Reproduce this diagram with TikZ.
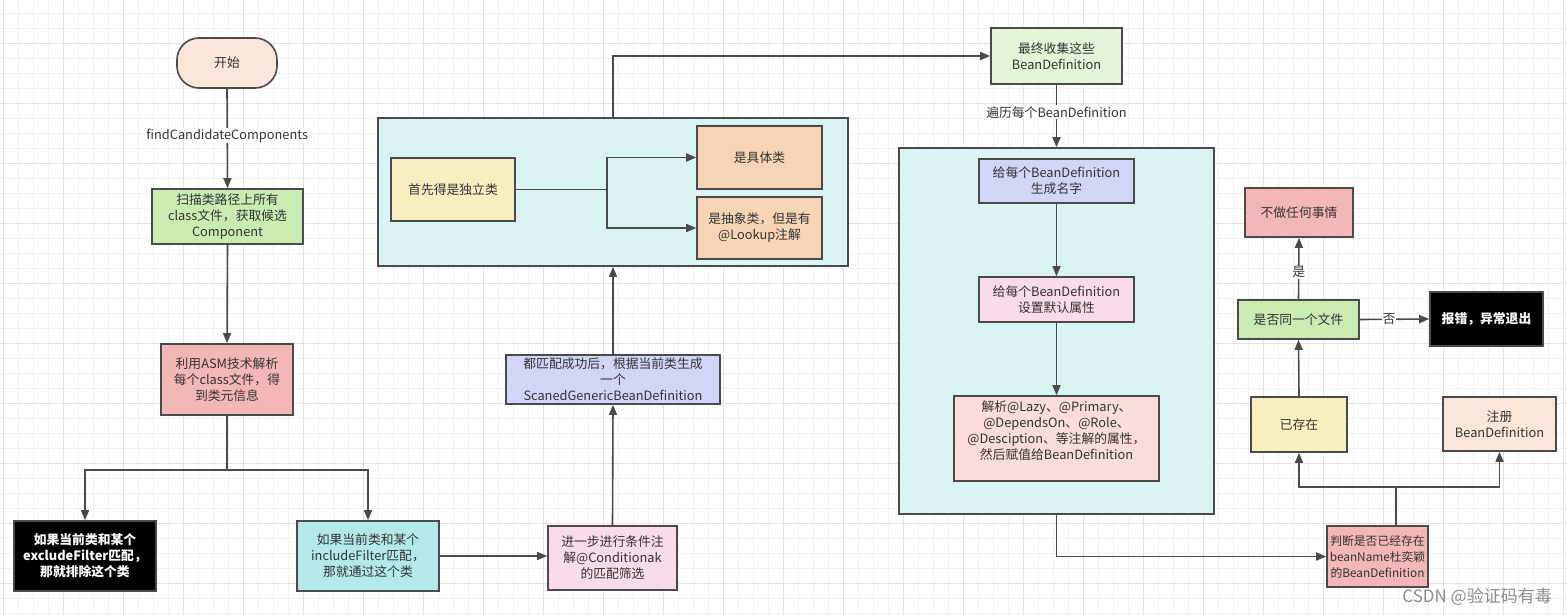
\documentclass[tikz,border=0pt]{standalone}
\usepackage{fontspec}
\setmainfont{Noto Sans CJK SC}
\usetikzlibrary{arrows.meta}
\definecolor{ln}{HTML}{4A4A4A}
\definecolor{txt}{HTML}{333333}
\definecolor{gminor}{HTML}{F0F0F0}
\definecolor{gmajor}{HTML}{E2E2E2}
\definecolor{cPeach}{HTML}{FBE7D9}
\definecolor{cGreen}{HTML}{C9ECB3}
\definecolor{cRed}{HTML}{F4B7B7}
\definecolor{cCyan}{HTML}{B4E9E9}
\definecolor{cPink}{HTML}{FADBE9}
\definecolor{cLav}{HTML}{D3D5F7}
\definecolor{cCont}{HTML}{DAF4F4}
\definecolor{cYel}{HTML}{F7EEC2}
\definecolor{cOra}{HTML}{F7D4B4}
\definecolor{cLGreen}{HTML}{E3F4D8}
\definecolor{cSalm}{HTML}{FADCDB}
\begin{document}
\begin{tikzpicture}[x=1pt,y=-1pt,
  font=\fontsize{12.8}{16}\selectfont,
  box/.style={draw=ln, line width=1.6pt, align=center, text=txt, inner sep=1pt},
  dark/.style={box, fill=black, text=white, font=\fontsize{12.8}{16}\selectfont\bfseries},
  conn/.style={draw=ln, line width=1.6pt, -{Triangle[length=10pt,width=8pt]}},
  elab/.style={fill=white, text=txt, inner sep=1pt}]
\useasboundingbox (0,0) rectangle (1567,615);
\fill[white] (0,0) rectangle (1567,615);
% grid
\foreach \i in {0,...,104} \draw[gminor, line width=0.8pt] (3.3+15*\i,0) -- (3.3+15*\i,615);
\foreach \j in {0,...,40} \draw[gminor, line width=0.8pt] (0,13.3+15*\j) -- (1567,13.3+15*\j);
\foreach \i in {0,...,26} \draw[gmajor, line width=0.8pt] (3.3+60*\i,0) -- (3.3+60*\i,615);
\foreach \j in {0,...,9} \draw[gmajor, line width=0.8pt] (0,43.3+60*\j) -- (1567,43.3+60*\j);

% containers
\node[box, fill=cCont, minimum width=470pt, minimum height=148pt] (cont1) at (613,192) {};
\node[box, fill=cCont, minimum width=315pt, minimum height=366pt] (cont2) at (1056.5,331) {};

% left column
\node[box, fill=cPeach, rounded corners=22pt, minimum width=100pt, minimum height=50pt] (start) at (227,63) {开始};
\node[box, fill=cGreen, minimum width=151pt, minimum height=55pt] (scan) at (227.5,216.5) {扫描类路径上所有\\class文件，获取候选\\Component};
\node[box, fill=cRed, minimum width=132pt, minimum height=71pt] (asm) at (227,379.5) {利用ASM技术解析\\每个class文件，得\\到类元信息};
\node[dark, minimum width=142pt, minimum height=70pt] (excl) at (85,556) {如果当前类和某个\\excludeFilter匹配，\\那就排除这个类};
\node[box, fill=cCyan, minimum width=142pt, minimum height=70pt] (incl) at (368,556) {如果当前类和某个\\includeFilter匹配，\\那就通过这个类};
\node[box, fill=cPink, minimum width=129pt, minimum height=64pt] (cond) at (612.5,558) {进一步进行条件注\\解@Conditionak\\的匹配筛选};
\node[box, fill=cLav, minimum width=214pt, minimum height=49pt, inner sep=0pt] (scaned) at (613,379.5) {都匹配成功后，根据当前类生成\\一个\\ScanedGenericBeanDefinition};

% container 1 content
\node[box, fill=cYel, minimum width=124pt, minimum height=63pt] (first) at (453,189.5) {首先得是独立类};
\node[box, fill=cOra, minimum width=125pt, minimum height=63pt] (concrete) at (759.5,157.5) {是具体类};
\node[box, fill=cOra, minimum width=125pt, minimum height=62pt] (abstract) at (759.5,228) {是抽象类，但是有\\@Lookup注解};

% right part
\node[box, fill=cLGreen, minimum width=131pt, minimum height=56pt] (collect) at (1056.5,56) {最终收集这些\\BeanDefinition};
\node[box, fill=cLav, minimum width=155pt, minimum height=44pt] (name) at (1056.5,181) {给每个BeanDefinition\\生成名字};
\node[box, fill=cPink, minimum width=155pt, minimum height=45pt] (default) at (1056.5,299.5) {给每个BeanDefinition\\设置默认属性};
\node[box, fill=cSalm, minimum width=205pt, minimum height=85pt] (parse) at (1056.5,438.5) {};
\node[text=txt, align=center] (parsetext) at (1056.5,431) {解析@Lazy、@Primary、\\@DependsOn、@Role、\\@Desciption、等注解的属性，\\然后赋值给BeanDefinition};

\node[box, fill=cRed, minimum width=101pt, minimum height=61pt, inner sep=0pt, font=\fontsize{11.8}{16}\selectfont] (judge) at (1377.5,556.5) {判断是否已经存在\\beanName杜奕颖\\的BeanDefinition};
\node[box, fill=cYel, minimum width=96pt, minimum height=55pt] (exist) at (1299,424.5) {已存在};
\node[box, fill=cPeach, minimum width=113pt, minimum height=54pt] (register) at (1499.5,424) {注册\\BeanDefinition};
\node[box, fill=cGreen, minimum width=121pt, minimum height=39pt] (same) at (1298.5,319.5) {是否同一个文件};
\node[dark, minimum width=113pt, minimum height=54pt] (error) at (1486.5,319) {报错，异常退出};
\node[box, fill=cRed, minimum width=108pt, minimum height=49pt] (nothing) at (1299,212.5) {不做任何事情};

% connectors
\draw[conn] (start.south) -- node[elab, pos=0.47] {findCandidateComponents} (scan.north);
\draw[conn] (scan.south) -- (asm.north);
\draw[conn] (asm.south) -- ++(0,54) -| (excl.north);
\draw[conn] (asm.south) -- ++(0,54) -| (incl.north);
\draw[conn] (incl.east) -- (incl.east -| cond.west);
\draw[conn] (cond.north) -- (scaned.south);
\draw[conn] (scaned.north) -- (cont1.south);
\draw[conn] (cont1.north) |- (collect.west);
\draw[conn] (first.east) -- ++(91,0) |- (concrete.west);
\draw[conn] (first.east) -- ++(91,0) |- (abstract.west);
\draw[conn] (collect.south) -- node[elab, pos=0.44] {遍历每个BeanDefinition} (cont2.north);
\draw[conn] (name.south) -- (default.north);
\draw[conn] (default.south) -- (parse.north);
\draw[conn] (cont2.south) |- (judge.west);
\coordinate (jt) at ([xshift=18.5pt]judge.north);
\draw[conn] (jt) -- ++(0,-38) -| (exist.south);
\draw[conn] (jt) -- ++(0,-38) -| (register.south);
\draw[conn] (exist.north) -- (same.south);
\draw[conn] (same.north) -- node[elab, pos=0.44] {是} (nothing.south);
\draw[conn] (same.east) -- node[elab, pos=0.42] {否} (error.west);

% watermark
\node[anchor=east, text=black!45, font=\fontsize{17}{20}\selectfont, inner sep=0pt] (wm) at (1552,597) {CSDN @验证码有毒};
\end{tikzpicture}
\end{document}
